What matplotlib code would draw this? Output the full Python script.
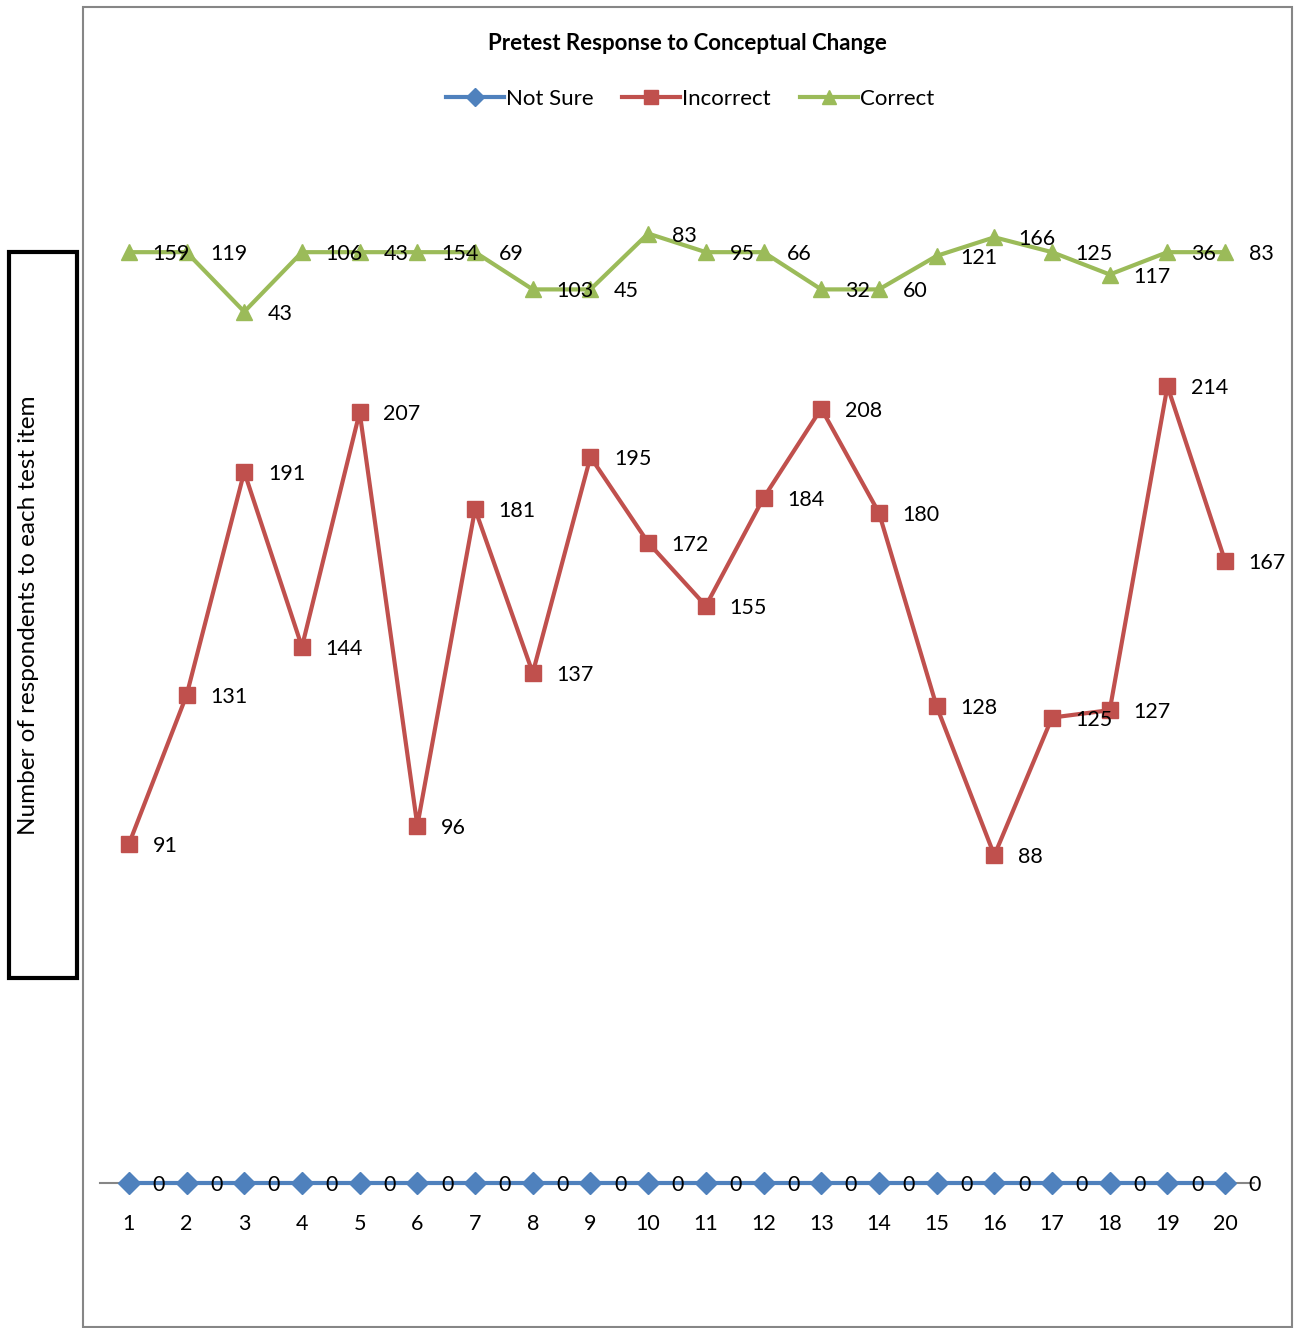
import matplotlib.pyplot as plt
import numpy as np
from matplotlib.patches import Rectangle

plt.rcParams['font.family'] = ['Lato', 'DejaVu Sans']

# 문항 번호와 응답 수
items = list(range(1, 21))
not_sure = [0] * 20
incorrect = [91, 131, 191, 144, 207, 96, 181, 137, 195, 172,
             155, 184, 208, 180, 128, 88, 125, 127, 214, 167]
correct = [159, 119, 43, 106, 43, 154, 69, 103, 45, 83,
           95, 66, 32, 60, 121, 166, 125, 117, 36, 83]

BLUE = '#4F81BD'
RED = '#C0504D'
GREEN = '#9BBB59'

W, H = 1301, 1328
fig = plt.figure(figsize=(W / 100, H / 100), dpi=100)

# 누적 선 그래프 (Not Sure -> Incorrect -> Correct)
ax = fig.add_axes([100 / W, (H - 1183) / H, (1254 - 100) / W, (1183 - 66) / H])
x = np.array(items)
base = np.array(not_sure)
lvl_inc = base + np.array(incorrect)
lvl_cor = lvl_inc + np.array(correct)

series = [
    ('Not Sure', base, not_sure, BLUE, 'D', 11),
    ('Incorrect', lvl_inc, incorrect, RED, 's', 12),
    ('Correct', lvl_cor, correct, GREEN, '^', 12),
]
for name, ys, vals, color, marker, ms in series:
    ax.plot(x, ys, color=color, lw=3, marker=marker, ms=ms,
            label=name, zorder=3, clip_on=False)
    for xi, yi, v in zip(x, ys, vals):
        ax.annotate(str(v), (xi, yi), xytext=(17, -1.5), textcoords='offset points',
                    ha='left', va='center', fontsize=15.5, zorder=5)

ax.set_xlim(0.5, 20.5)
ax.set_ylim(0, 300)
ax.set_xticks(items)
ax.tick_params(axis='x', length=0, pad=22.5, labelsize=15.5)
ax.set_yticks([])
for side in ['top', 'right', 'left']:
    ax.spines[side].set_visible(False)
ax.spines['bottom'].set_color('#868686')
ax.spines['bottom'].set_linewidth(1.5)
ax.spines['bottom'].set_zorder(2)
ax.patch.set_alpha(0)

# 제목과 범례
fig.text(687 / W, 1 - 44 / H, 'Pretest Response to Conceptual Change',
         ha='center', va='center', fontsize=16, fontweight='bold')
fig.legend(loc='center', bbox_to_anchor=(690 / W, 1 - 99 / H), ncol=3,
           frameon=False, fontsize=16, handlelength=2.6, handletextpad=0.1,
           columnspacing=1.3, markerscale=0.85)

# 차트 영역 테두리
fig.patches.append(Rectangle((83 / W, 1 / H), (1292 - 83) / W, (1321 - 1) / H,
                             transform=fig.transFigure, fill=False,
                             edgecolor='#868686', lw=1.5))

# 세로축 제목 상자
fig.patches.append(Rectangle((9 / W, (H - 978) / H), (77 - 9) / W, (978 - 252) / H,
                             transform=fig.transFigure, fill=False,
                             edgecolor='black', lw=3))
fig.text(29 / W, 1 - 615 / H, 'Number of respondents to each test item',
         rotation=90, ha='center', va='center', fontsize=17.5)

fig.savefig('out.png', dpi=100)
